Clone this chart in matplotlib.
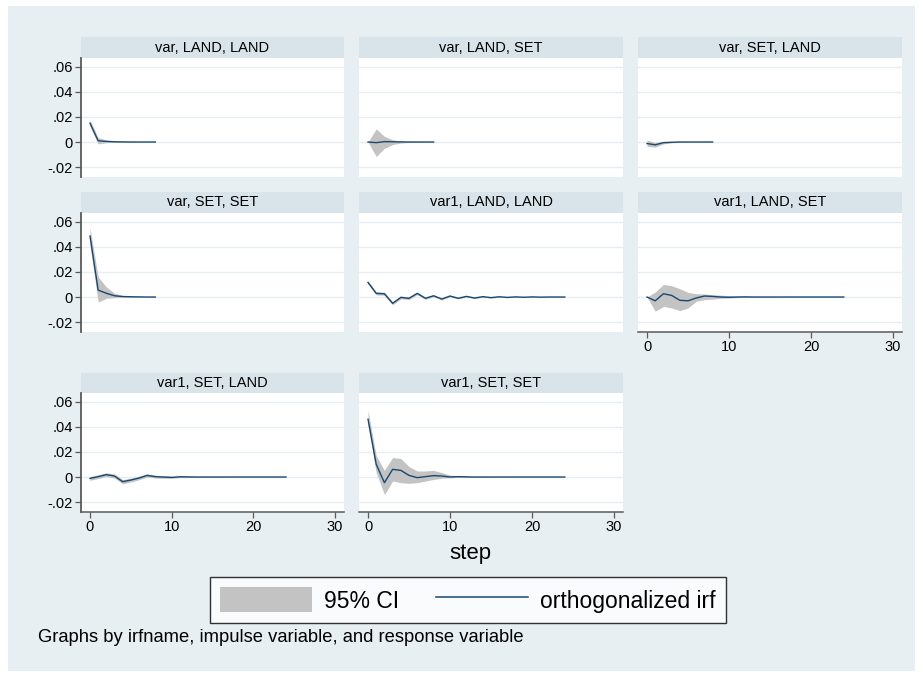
import matplotlib.pyplot as plt
from matplotlib.patches import Patch, Rectangle
from matplotlib.lines import Line2D

plt.rcParams["font.family"] = ["Liberation Sans", "DejaVu Sans"]

# steps used by the two irf files
short_steps = [0, 1, 2, 3, 4, 5, 6, 7, 8]
long_steps = list(range(25))

panel_titles = [
    "var, LAND, LAND", "var, LAND, SET", "var, SET, LAND",
    "var, SET, SET", "var1, LAND, LAND", "var1, LAND, SET",
    "var1, SET, LAND", "var1, SET, SET",
]

# var, LAND, LAND
irf_v_ll = [0.015, 0.001, 0.0005, 0.0002, 0.0001, 0.0, 0.0, 0.0, 0.0]
lo_v_ll = [0.0125, -0.0015, -0.0005, -0.0002, -0.0001, 0.0, 0.0, 0.0, 0.0]
hi_v_ll = [0.0175, 0.0035, 0.0015, 0.0007, 0.0003, 0.0001, 0.0, 0.0, 0.0]

# var, LAND, SET
irf_v_ls = [0.0, -0.0005, 0.0003, 0.0002, 0.0001, 0.0, 0.0, 0.0, 0.0]
lo_v_ls = [0.0, -0.0115, -0.005, -0.002, -0.0008, -0.0003, -0.0001, 0.0, 0.0]
hi_v_ls = [0.0, 0.0105, 0.0045, 0.0018, 0.0007, 0.0003, 0.0001, 0.0, 0.0]

# var, SET, LAND
irf_v_sl = [-0.0012, -0.0022, -0.0005, -0.0002, 0.0, 0.0, 0.0, 0.0, 0.0]
lo_v_sl = [-0.0035, -0.004, -0.0015, -0.0006, -0.0002, 0.0, 0.0, 0.0, 0.0]
hi_v_sl = [0.0015, -0.0004, 0.0005, 0.0002, 0.0001, 0.0, 0.0, 0.0, 0.0]

# var, SET, SET
irf_v_ss = [0.0485, 0.0055, 0.003, 0.001, 0.0004, 0.0002, 0.0001, 0.0, 0.0]
lo_v_ss = [0.042, -0.004, -0.001, -0.0005, -0.0002, -0.0001, 0.0, 0.0, 0.0]
hi_v_ss = [0.055, 0.016, 0.008, 0.003, 0.0012, 0.0005, 0.0002, 0.0001, 0.0]

# var1, LAND, LAND
irf_v1_ll = [0.0116, 0.0029, 0.0026, -0.005, -0.0003, -0.001, 0.0029, -0.001, 0.001,
             -0.0016, 0.0008, -0.001, 0.0005, -0.0008, 0.0003, -0.0005, 0.0002, -0.0003,
             0.0001, -0.0002, 0.0001, -0.0001, 0.0, 0.0, 0.0]
lo_v1_ll = [0.0104, 0.0017, 0.0014, -0.0062, -0.0014, -0.002, 0.0019, -0.0019, 0.0002,
            -0.0023, 0.0002, -0.0015, 0.0001, -0.0012, -0.0001, -0.0008, -0.0001, -0.0005,
            -0.0001, -0.0003, 0.0, -0.0002, -0.0001, -0.0001, 0.0]
hi_v1_ll = [0.0128, 0.0041, 0.0038, -0.0038, 0.0008, 0.0, 0.0039, -0.0001, 0.0018,
            -0.0009, 0.0014, -0.0005, 0.0009, -0.0004, 0.0007, -0.0002, 0.0005, -0.0001,
            0.0003, -0.0001, 0.0002, 0.0, 0.0001, 0.0001, 0.0]

# var1, LAND, SET
irf_v1_ls = [0.0, -0.003, 0.0026, 0.0013, -0.0026, -0.003, -0.0008, 0.0008, 0.0005,
             0.0, -0.0002, 0.0, 0.0001, 0.0, 0.0, 0.0, 0.0, 0.0, 0.0, 0.0, 0.0, 0.0,
             0.0, 0.0, 0.0]
lo_v1_ls = [0.0, -0.0113, -0.0074, -0.0087, -0.0108, -0.0087, -0.0034, -0.0021, -0.0016,
            -0.001, -0.0008, -0.0005, -0.0003, -0.0002, -0.0001, -0.0001, 0.0, 0.0, 0.0,
            0.0, 0.0, 0.0, 0.0, 0.0, 0.0]
hi_v1_ls = [0.0, 0.004, 0.01, 0.009, 0.0066, 0.0037, 0.0026, 0.0024, 0.0018, 0.0015,
            0.001, 0.0007, 0.0006, 0.0004, 0.0003, 0.0002, 0.0001, 0.0001, 0.0, 0.0,
            0.0, 0.0, 0.0, 0.0, 0.0]

# var1, SET, LAND
irf_v1_sl = [-0.0011, 0.0003, 0.0019, 0.0008, -0.0037, -0.0024, -0.0008, 0.0013, 0.0003,
             0.0, -0.0003, 0.0002, 0.0001, 0.0, 0.0, 0.0, 0.0, 0.0, 0.0, 0.0, 0.0, 0.0,
             0.0, 0.0, 0.0]
lo_v1_sl = [-0.0026, -0.0012, 0.0004, -0.0008, -0.0054, -0.0039, -0.0022, 0.0, -0.0008,
            -0.001, -0.0011, -0.0005, -0.0004, -0.0002, -0.0001, -0.0001, 0.0, 0.0, 0.0,
            0.0, 0.0, 0.0, 0.0, 0.0, 0.0]
hi_v1_sl = [0.0004, 0.0018, 0.0034, 0.0024, -0.002, -0.0009, 0.0006, 0.0026, 0.0014,
            0.001, 0.0005, 0.0009, 0.0006, 0.0003, 0.0002, 0.0001, 0.0001, 0.0, 0.0,
            0.0, 0.0, 0.0, 0.0, 0.0, 0.0]

# var1, SET, SET
irf_v1_ss = [0.046, 0.0101, -0.0045, 0.0061, 0.0053, 0.0013, -0.0005, 0.0003, 0.0011,
             0.0008, 0.0, 0.0003, 0.0001, 0.0, 0.0, 0.0, 0.0, 0.0, 0.0, 0.0, 0.0, 0.0,
             0.0, 0.0, 0.0]
lo_v1_ss = [0.041, 0.0035, -0.0139, -0.0032, -0.0045, -0.005, -0.0045, -0.0032, -0.0019,
            -0.001, -0.0005, -0.0003, -0.0002, -0.0001, -0.0001, 0.0, 0.0, 0.0, 0.0,
            0.0, 0.0, 0.0, 0.0, 0.0, 0.0]
hi_v1_ss = [0.0528, 0.017, 0.0053, 0.0155, 0.0147, 0.0083, 0.0048, 0.0048, 0.0053,
            0.0035, 0.0016, 0.001, 0.0006, 0.0004, 0.0002, 0.0001, 0.0001, 0.0, 0.0,
            0.0, 0.0, 0.0, 0.0, 0.0, 0.0]

y_ticks = [-0.02, 0, 0.02, 0.04, 0.06]
y_tick_labels = ["-.02", "0", ".02", ".04", ".06"]
x_ticks = [0, 10, 20, 30]

BG = "#e8eff2"
STRIP = "#d8e4ea"
GRID = "#e6eef1"
CI_COLOR = "#c3c3c3"
LINE_COLOR = "#1a476f"
AXIS_COLOR = "#5a5a5a"

W, H = 923, 675


def px_rect(left, top, right, bottom):
    return [left / W, 1 - bottom / H, (right - left) / W, (bottom - top) / H]


def draw_panel(fig, cols, rows, title, steps, irf, lo, hi, show_y, show_x):
    left, right = cols
    strip_top, plot_top, plot_bottom = rows

    # title strip
    sax = fig.add_axes(px_rect(left, strip_top, right, plot_top))
    sax.set_facecolor(STRIP)
    sax.set_xticks([])
    sax.set_yticks([])
    for s in sax.spines.values():
        s.set_visible(False)
    sax.text(0.5, 0.5, title, ha="center", va="center", fontsize=10.5,
             transform=sax.transAxes)

    ax = fig.add_axes(px_rect(left, plot_top, right, plot_bottom))
    ax.set_facecolor("white")
    ax.fill_between(steps, lo, hi, color=CI_COLOR, lw=0, zorder=2)
    ax.plot(steps, irf, color=LINE_COLOR, lw=1.0, zorder=3)
    ax.set_xlim(-1.1, 31.1)
    ax.set_ylim(-0.0278, 0.0668)
    ax.set_yticks(y_ticks)
    ax.set_xticks(x_ticks)
    ax.grid(axis="y", color=GRID, lw=1.0, zorder=1)
    ax.set_axisbelow(True)
    for side in ["top", "right"]:
        ax.spines[side].set_visible(False)
    ax.spines["left"].set_visible(show_y)
    ax.spines["bottom"].set_visible(show_x)
    ax.spines["left"].set_color(AXIS_COLOR)
    ax.spines["bottom"].set_color(AXIS_COLOR)
    ax.spines["left"].set_linewidth(1.3)
    ax.spines["bottom"].set_linewidth(1.1)
    if show_y:
        ax.set_yticklabels(y_tick_labels)
        ax.tick_params(axis="y", length=4, width=0.9, color=AXIS_COLOR,
                       labelsize=10.5, pad=2)
    else:
        ax.tick_params(axis="y", length=0, labelleft=False)
    if show_x:
        ax.tick_params(axis="x", length=4, width=0.9, color=AXIS_COLOR,
                       labelsize=10.5, pad=2)
    else:
        ax.tick_params(axis="x", length=0, labelbottom=False)
    return ax


fig = plt.figure(figsize=(W / 100, H / 100), dpi=100)
fig.patch.set_facecolor("white")
# light background panel behind everything
bg = Rectangle((8 / W, 4 / H), 907 / W, 665 / H, transform=fig.transFigure,
               facecolor=BG, edgecolor="none", zorder=-10)
fig.add_artist(bg)

col_x = [(81, 344), (359, 623), (638, 902)]
row_y = [(37, 58, 177), (192, 213, 332), (373, 393, 512)]

panels = [
    (short_steps, irf_v_ll, lo_v_ll, hi_v_ll),
    (short_steps, irf_v_ls, lo_v_ls, hi_v_ls),
    (short_steps, irf_v_sl, lo_v_sl, hi_v_sl),
    (short_steps, irf_v_ss, lo_v_ss, hi_v_ss),
    (long_steps, irf_v1_ll, lo_v1_ll, hi_v1_ll),
    (long_steps, irf_v1_ls, lo_v1_ls, hi_v1_ls),
    (long_steps, irf_v1_sl, lo_v1_sl, hi_v1_sl),
    (long_steps, irf_v1_ss, lo_v1_ss, hi_v1_ss),
]

for i, (steps, irf, lo, hi) in enumerate(panels):
    r, c = divmod(i, 3)
    show_x = r == 2 or (r == 1 and c == 2)
    draw_panel(fig, col_x[c], row_y[r], panel_titles[i], steps, irf, lo, hi,
               show_y=(c == 0), show_x=show_x)

fig.text(470 / W, 1 - 553 / H, "step", ha="center", va="center", fontsize=16)

handles = [Patch(facecolor=CI_COLOR, edgecolor="none"),
           Line2D([0], [0], color=LINE_COLOR, lw=1.1)]
leg = fig.legend(handles, ["95% CI", "orthogonalized irf"], loc="center",
                 bbox_to_anchor=(468 / W, 1 - 600 / H), ncol=2, fontsize=16.5,
                 frameon=True, fancybox=False, handlelength=4.0, handleheight=1.3,
                 handletextpad=0.55, columnspacing=1.6, borderpad=0.45)
leg.get_frame().set_edgecolor("black")
leg.get_frame().set_linewidth(1.0)
leg.get_frame().set_facecolor("white")

fig.text(38 / W, 1 - 637 / H, "Graphs by irfname, impulse variable, and response variable",
         ha="left", va="center", fontsize=13.2)

fig.savefig("out.png", dpi=100, facecolor=fig.get_facecolor())
